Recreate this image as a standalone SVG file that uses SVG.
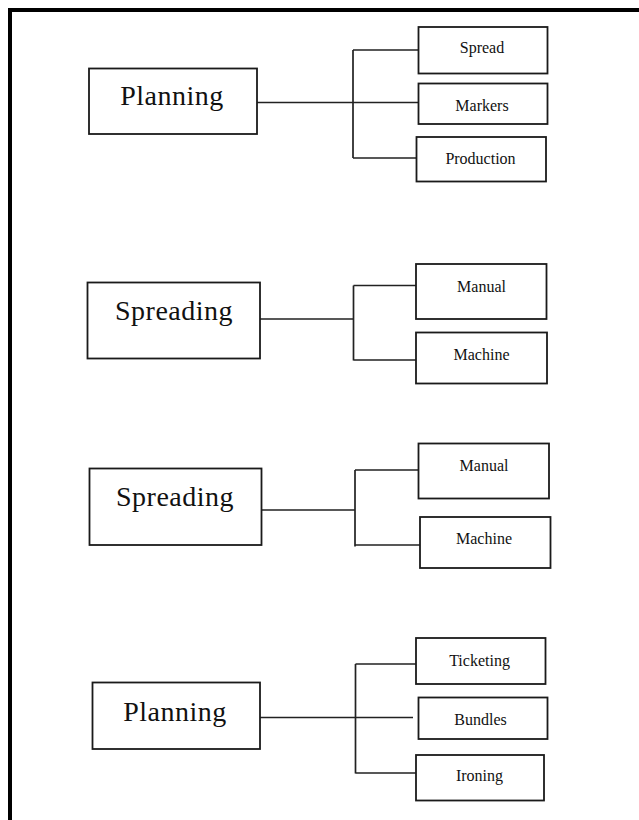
<svg xmlns="http://www.w3.org/2000/svg" width="639" height="820" viewBox="0 0 639 820">
<style>
.box{fill:#fff;stroke:#1a1a1a;stroke-width:1.8}
.big{font-family:"Liberation Serif","Times New Roman",serif;font-size:28px;letter-spacing:0.5px;fill:#111;text-anchor:middle}
.small{font-family:"Liberation Serif","Times New Roman",serif;font-size:16px;fill:#111;text-anchor:middle}
.ln{fill:none;stroke:#222;stroke-width:1.7}
</style>
<rect width="639" height="820" fill="#fff"/>
<path d="M10 820 V10 H639" fill="none" stroke="#000" stroke-width="4"/>
<g id="connectors">
<path class="ln" d="M257 102.5 H418 M353 50 V158 M353 50 H418 M353 158 H416"/>
<path class="ln" d="M260 319 H353.5 M353.5 285.5 V360.5 M353.5 285.5 H416 M353.5 360 H416"/>
<path class="ln" d="M262 510 H355 M355 470 V546.5 M355 470 H418 M355 545 H420"/>
<path class="ln" d="M260 717.5 H413 M355.5 664 V773.5 M355.5 664 H416 M355.5 773 H416"/>
</g>
<g id="planning1">
<rect class="box" x="89" y="68.5" width="168" height="65.5"/>
<text class="big" x="172" y="105">Planning</text>
</g>
<g id="spread">
<rect class="box" x="418.5" y="27" width="129" height="46.5"/>
<text class="small" x="482" y="53">Spread</text>
</g>
<g id="markers">
<rect class="box" x="418.5" y="83.5" width="129" height="40.5"/>
<text class="small" x="482" y="110.5">Markers</text>
</g>
<g id="production">
<rect class="box" x="416.5" y="137" width="129.5" height="44.5"/>
<text class="small" x="480.5" y="164">Production</text>
</g>
<g id="spreading1">
<rect class="box" x="87.5" y="282.5" width="172.5" height="76"/>
<text class="big" x="174" y="319.5">Spreading</text>
</g>
<g id="manual1">
<rect class="box" x="416" y="264" width="130.5" height="55"/>
<text class="small" x="481.5" y="291.5">Manual</text>
</g>
<g id="machine1">
<rect class="box" x="416" y="332.5" width="131" height="51"/>
<text class="small" x="481.5" y="359.5">Machine</text>
</g>
<g id="spreading2">
<rect class="box" x="89.5" y="468.5" width="172" height="76.5"/>
<text class="big" x="175" y="505.5">Spreading</text>
</g>
<g id="manual2">
<rect class="box" x="418.5" y="443.5" width="130.5" height="55"/>
<text class="small" x="484" y="470.5">Manual</text>
</g>
<g id="machine2">
<rect class="box" x="420" y="517" width="130.5" height="51"/>
<text class="small" x="484" y="543.5">Machine</text>
</g>
<g id="planning2">
<rect class="box" x="92.5" y="682.5" width="167.5" height="66.5"/>
<text class="big" x="175" y="720.5">Planning</text>
</g>
<g id="ticketing">
<rect class="box" x="416" y="638" width="129.5" height="46"/>
<text class="small" x="479.5" y="665.5">Ticketing</text>
</g>
<g id="bundles">
<rect class="box" x="418.5" y="697.5" width="129" height="41.5"/>
<text class="small" x="480.5" y="724.5">Bundles</text>
</g>
<g id="ironing">
<rect class="box" x="416" y="755" width="128" height="45.5"/>
<text class="small" x="479.5" y="780.5">Ironing</text>
</g>
</svg>
